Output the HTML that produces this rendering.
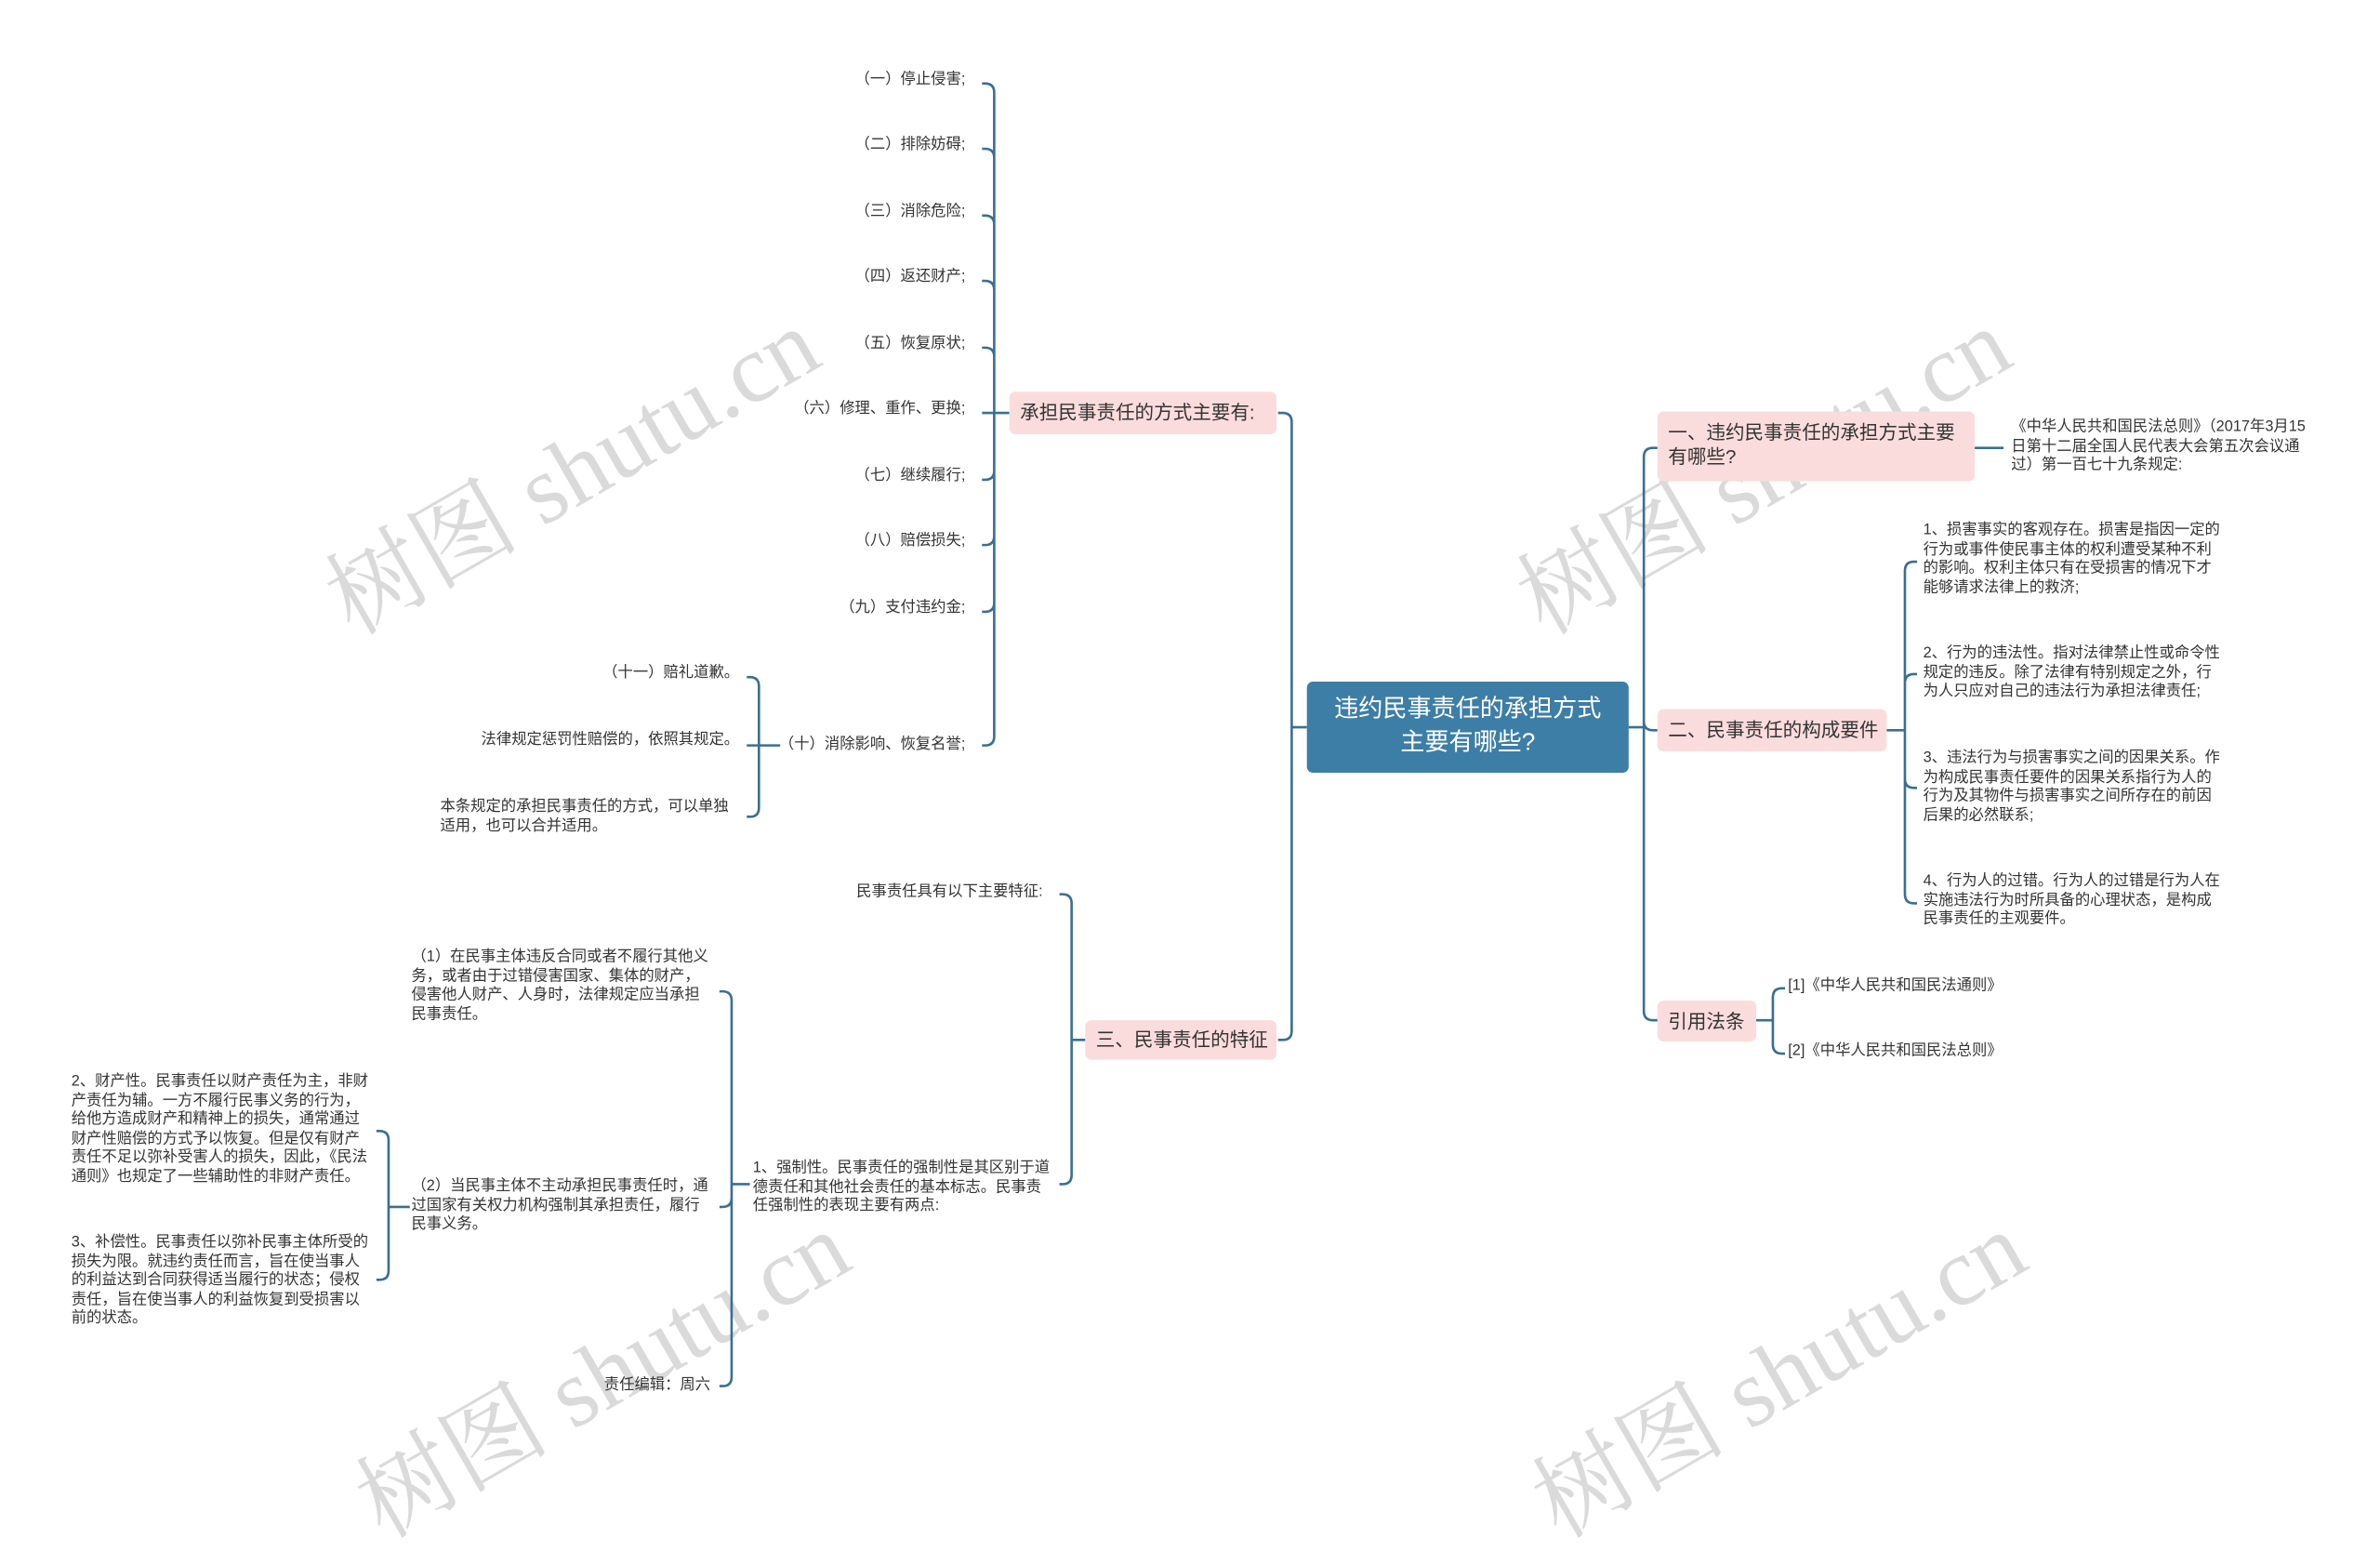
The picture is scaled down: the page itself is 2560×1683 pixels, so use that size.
<!DOCTYPE html>
<html><head><meta charset="utf-8">
<style>
html,body{margin:0;padding:0;background:#fff;}
body{width:2560px;height:1579px;overflow:hidden;position:relative;}
#w{position:absolute;left:0;top:0;width:1568px;height:967px;transform:scale(1.63265);transform-origin:0 0;font-family:"Liberation Sans","Noto Sans CJK SC",sans-serif;color:#333;}
.t{position:absolute;font-size:10px;line-height:12.6px;white-space:nowrap;}
.r{text-align:right;}
.p{position:absolute;background:#fbdcdc;border-radius:4px;font-size:12.6px;line-height:16px;color:#333;box-sizing:border-box;padding:6px 7px;white-space:nowrap;}
.c{position:absolute;left:861px;top:449px;width:212px;height:60px;background:#3d7ea6;border-radius:4px;color:#fff;font-size:16px;line-height:22px;text-align:center;padding-top:8px;box-sizing:border-box;}
.wm{position:absolute;font-family:"Liberation Serif","Noto Serif CJK SC",serif;font-size:64px;color:rgba(150,150,150,0.35);transform:rotate(-30deg);white-space:nowrap;}
svg{position:absolute;left:0;top:0;}
</style></head><body><div id="w">
<div class="wm" style="left:195px;top:260px;">树图 shutu.cn</div>
<div class="wm" style="left:980px;top:260px;">树图 shutu.cn</div>
<div class="wm" style="left:215px;top:855px;">树图 shutu.cn</div>
<div class="wm" style="left:990px;top:855px;">树图 shutu.cn</div>
<svg id="s" width="1568" height="967" viewBox="0 0 1568 967"></svg>
<div class="c">违约民事责任的承担方式<br>主要有哪些?</div>

<div class="p" style="left:1092px;top:271px;width:209px;height:46px;padding-top:6px;white-space:normal;">一、违约民事责任的承担方式主要有哪些?</div>
<div class="t" style="left:1325px;top:276px;white-space:normal;width:197px;">《中华人民共和国民法总则》（2017年3月15日第十二届全国人民代表大会第五次会议通过）第一百七十九条规定:</div>
<div class="p" style="left:1092px;top:467px;width:151px;height:28px;">二、民事责任的构成要件</div>
<div class="t" style="left:1267px;top:344px;white-space:normal;width:197px;">1、损害事实的客观存在。损害是指因一定的行为或事件使民事主体的权利遭受某种不利的影响。权利主体只有在受损害的情况下才能够请求法律上的救济;</div>
<div class="t" style="left:1267px;top:425px;white-space:normal;width:197px;">2、行为的违法性。指对法律禁止性或命令性规定的违反。除了法律有特别规定之外，行为人只应对自己的违法行为承担法律责任;</div>
<div class="t" style="left:1267px;top:494px;white-space:normal;width:197px;">3、违法行为与损害事实之间的因果关系。作为构成民事责任要件的因果关系指行为人的行为及其物件与损害事实之间所存在的前因后果的必然联系;</div>
<div class="t" style="left:1267px;top:575px;white-space:normal;width:197px;">4、行为人的过错。行为人的过错是行为人在实施违法行为时所具备的心理状态，是构成民事责任的主观要件。</div>
<div class="p" style="left:1092px;top:659px;width:65px;height:27px;">引用法条</div>
<div class="t" style="left:1178px;top:644px;">[1]《中华人民共和国民法通则》</div>
<div class="t" style="left:1178px;top:687px;">[2]《中华人民共和国民法总则》</div>

<div class="p" style="left:665px;top:258px;width:176px;height:28px;">承担民事责任的方式主要有:</div>
<div class="t r" style="right:932px;top:47px;">（一）停止侵害;</div>
<div class="t r" style="right:932px;top:90px;">（二）排除妨碍;</div>
<div class="t r" style="right:932px;top:134px;">（三）消除危险;</div>
<div class="t r" style="right:932px;top:177px;">（四）返还财产;</div>
<div class="t r" style="right:932px;top:221px;">（五）恢复原状;</div>
<div class="t r" style="right:932px;top:264px;">（六）修理、重作、更换;</div>
<div class="t r" style="right:932px;top:308px;">（七）继续履行;</div>
<div class="t r" style="right:932px;top:351px;">（八）赔偿损失;</div>
<div class="t r" style="right:932px;top:395px;">（九）支付违约金;</div>
<div class="t r" style="right:932px;top:485px;">（十）消除影响、恢复名誉;</div>
<div class="t r" style="right:1081px;top:438px;">（十一）赔礼道歉。</div>
<div class="t r" style="right:1081px;top:482px;">法律规定惩罚性赔偿的，依照其规定。</div>
<div class="t" style="left:290px;top:526px;white-space:normal;width:197px;">本条规定的承担民事责任的方式，可以单独适用，也可以合并适用。</div>

<div class="p" style="left:715px;top:672px;width:126px;height:26px;padding-top:5px;">三、民事责任的特征</div>
<div class="t r" style="right:881px;top:582px;">民事责任具有以下主要特征:</div>
<div class="t" style="left:496px;top:764px;white-space:normal;width:197px;">1、强制性。民事责任的强制性是其区别于道德责任和其他社会责任的基本标志。民事责任强制性的表现主要有两点:</div>
<div class="t" style="left:271px;top:625px;white-space:normal;width:199px;">（1）在民事主体违反合同或者不履行其他义务，或者由于过错侵害国家、集体的财产，侵害他人财产、人身时，法律规定应当承担民事责任。</div>
<div class="t" style="left:271px;top:776px;white-space:normal;width:199px;">（2）当民事主体不主动承担民事责任时，通过国家有关权力机构强制其承担责任，履行民事义务。</div>
<div class="t r" style="right:1100px;top:907px;">责任编辑：周六</div>
<div class="t" style="left:47px;top:707px;white-space:normal;width:197px;">2、财产性。民事责任以财产责任为主，非财产责任为辅。一方不履行民事义务的行为，给他方造成财产和精神上的损失，通常通过财产性赔偿的方式予以恢复。但是仅有财产责任不足以弥补受害人的损失，因此，《民法通则》也规定了一些辅助性的非财产责任。</div>
<div class="t" style="left:47px;top:813px;white-space:normal;width:197px;">3、补偿性。民事责任以弥补民事主体所受的损失为限。就违约责任而言，旨在使当事人的利益达到合同获得适当履行的状态；侵权责任，旨在使当事人的利益恢复到受损害以前的状态。</div>
</div>
<script>
var s=document.getElementById('s'),d='';
function L(x0,y0,bx,x1,ys){ys.forEach(function(y1){
 if(Math.abs(y1-y0)<2){d+='M'+x0+','+y0+' H'+x1+' ';return;}
 var sg=y1>y0?1:-1,dr=x1>bx?1:-1,r=6;
 d+='M'+x0+','+y0+' H'+bx+' V'+(y1-sg*r)+' Q'+bx+','+y1+' '+(bx+dr*r)+','+y1+' H'+x1+' ';});}
L(1073,479,1083,1092,[295,481,672]);
L(1301,295,1310,1320,[295]);
L(1243,481,1255,1263,[370,444,519,595]);
L(1157,672,1168,1176,[651,694]);
L(861,479,851,842,[272,685]);
L(665,272,655,647,[55,98,142,185,229,272,316,359,403,491]);
L(514,491,500,492,[446,490,538]);
L(715,685,706,698,[589,780]);
L(494,780,482,474,[653,795,913]);
L(270,795,256,248,[745,843]);
var p=document.createElementNS('http://www.w3.org/2000/svg','path');
p.setAttribute('d',d);p.setAttribute('fill','none');p.setAttribute('stroke','#3a6f92');p.setAttribute('stroke-width','1.6');
s.appendChild(p);
</script>
</body></html>
